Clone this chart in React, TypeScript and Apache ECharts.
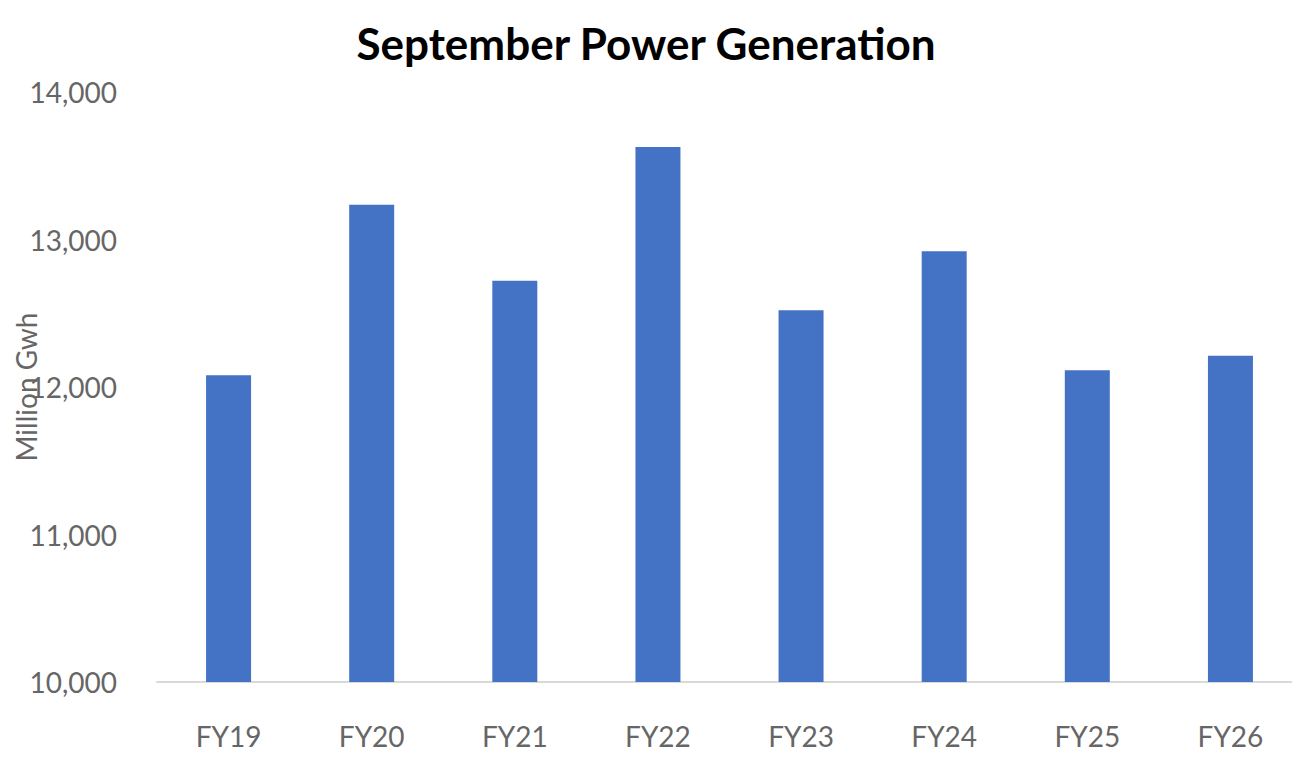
import React, { useEffect, useRef } from "react";
import * as echarts from "echarts";

const categories = ["FY19", "FY20", "FY21", "FY22", "FY23", "FY24", "FY25", "FY26"];
const generation = [12079, 13236, 12721, 13627, 12520, 12920, 12113, 12212];
const yMin = 10000;
const yMax = 14000;
const yStep = 1000;

export default function App() {
  const ref = useRef<HTMLDivElement>(null);
  useEffect(() => {
    if (!ref.current) return;
    const chart = echarts.init(ref.current, null, { renderer: "svg" });
    chart.setOption({
      animation: false,
      backgroundColor: "#ffffff",
      title: {
        text: "September Power Generation",
        left: "center",
        top: 16,
        textStyle: { fontFamily: "Lato", fontWeight: "bold", fontSize: 44, color: "#000" },
      },
      grid: { left: 157, right: -10, top: 92, bottom: 81, containLabel: false, outerBoundsMode: "none" },
      xAxis: {
        type: "category",
        data: categories,
        axisTick: { show: false },
        axisLine: { lineStyle: { color: "#d9d9d9", width: 2 } },
        axisLabel: { margin: 40, fontFamily: "Lato", fontSize: 28, color: "#666666" },
      },
      yAxis: {
        type: "value",
        min: yMin,
        max: yMax,
        interval: yStep,
        name: "Million Gwh",
        nameLocation: "middle",
        nameGap: 117,
        nameMoveOverlap: false,
        nameTextStyle: { fontFamily: "Lato", fontSize: 28, color: "#666666" },
        splitLine: { show: false },
        axisLine: { show: false },
        axisTick: { show: false },
        axisLabel: {
          margin: 40,
          fontFamily: "Lato",
          fontSize: 28,
          color: "#666666",
          formatter: (v: number) => v.toLocaleString("en-US"),
        },
      },
      series: [
        {
          type: "bar",
          data: generation,
          barWidth: 45,
          itemStyle: { color: "#4472C4" },
        },
      ],
    });
    return () => chart.dispose();
  }, []);
  return <div ref={ref} style={{ width: 1292, height: 763, position: "absolute", left: 0, top: 0 }} />;
}
